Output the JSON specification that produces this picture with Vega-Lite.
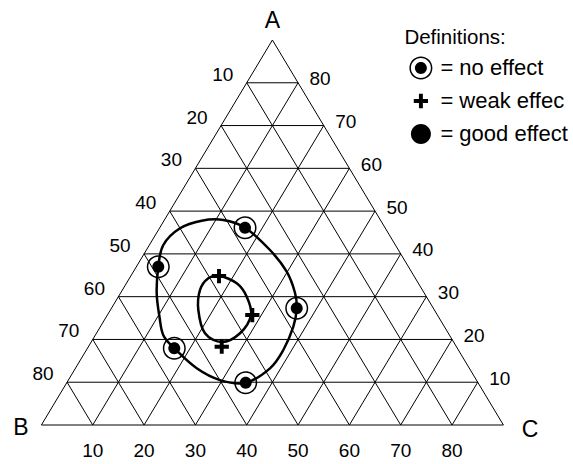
{
  "$schema": "https://vega.github.io/schema/vega-lite/v6.json",
  "width": 462,
  "height": 385,
  "autosize": {"type": "none"},
  "padding": {"left": 41.4, "top": 40, "right": 69.6, "bottom": 39},
  "background": "white",
  "config": {"view": {"stroke": null}, "font": "Liberation Sans"},
  "datasets": {
    "grid": [
      {"u": 0, "v": 0, "u2": 9, "v2": 0},
      {"u": 0, "v": 0, "u2": 4.5, "v2": 9},
      {"u": 9, "v": 0, "u2": 4.5, "v2": 9},
      {"u": 0.5, "v": 1, "u2": 8.5, "v2": 1},
      {"u": 1, "v": 2, "u2": 8, "v2": 2},
      {"u": 1.5, "v": 3, "u2": 7.5, "v2": 3},
      {"u": 2, "v": 4, "u2": 7, "v2": 4},
      {"u": 2.5, "v": 5, "u2": 6.5, "v2": 5},
      {"u": 3, "v": 6, "u2": 6, "v2": 6},
      {"u": 3.5, "v": 7, "u2": 5.5, "v2": 7},
      {"u": 4, "v": 8, "u2": 5, "v2": 8},
      {"u": 1, "v": 0, "u2": 5, "v2": 8},
      {"u": 2, "v": 0, "u2": 5.5, "v2": 7},
      {"u": 3, "v": 0, "u2": 6, "v2": 6},
      {"u": 4, "v": 0, "u2": 6.5, "v2": 5},
      {"u": 5, "v": 0, "u2": 7, "v2": 4},
      {"u": 6, "v": 0, "u2": 7.5, "v2": 3},
      {"u": 7, "v": 0, "u2": 8, "v2": 2},
      {"u": 8, "v": 0, "u2": 8.5, "v2": 1},
      {"u": 1, "v": 0, "u2": 0.5, "v2": 1},
      {"u": 2, "v": 0, "u2": 1, "v2": 2},
      {"u": 3, "v": 0, "u2": 1.5, "v2": 3},
      {"u": 4, "v": 0, "u2": 2, "v2": 4},
      {"u": 5, "v": 0, "u2": 2.5, "v2": 5},
      {"u": 6, "v": 0, "u2": 3, "v2": 6},
      {"u": 7, "v": 0, "u2": 3.5, "v2": 7},
      {"u": 8, "v": 0, "u2": 4, "v2": 8}
    ],
    "curves": [
      {"curve": "outer", "i": 1, "u": 3.967, "v": 4.612},
      {"curve": "outer", "i": 2, "u": 4.453, "v": 4.091},
      {"curve": "outer", "i": 3, "u": 4.779, "v": 3.583},
      {"curve": "outer", "i": 4, "u": 4.941, "v": 3.086},
      {"curve": "outer", "i": 5, "u": 4.974, "v": 2.728},
      {"curve": "outer", "i": 6, "u": 4.908, "v": 2.298},
      {"curve": "outer", "i": 7, "u": 4.713, "v": 1.753},
      {"curve": "outer", "i": 8, "u": 4.453, "v": 1.325},
      {"curve": "outer", "i": 9, "u": 3.98, "v": 0.989},
      {"curve": "outer", "i": 10, "u": 3.479, "v": 1.05},
      {"curve": "outer", "i": 11, "u": 3.026, "v": 1.325},
      {"curve": "outer", "i": 12, "u": 2.589, "v": 1.793},
      {"curve": "outer", "i": 13, "u": 2.375, "v": 2.1},
      {"curve": "outer", "i": 14, "u": 2.3, "v": 2.53},
      {"curve": "outer", "i": 15, "u": 2.246, "v": 3.08},
      {"curve": "outer", "i": 16, "u": 2.277, "v": 3.7},
      {"curve": "outer", "i": 17, "u": 2.375, "v": 4.208},
      {"curve": "outer", "i": 18, "u": 2.7, "v": 4.598},
      {"curve": "outer", "i": 19, "u": 3.123, "v": 4.776},
      {"curve": "outer", "i": 20, "u": 3.544, "v": 4.792},
      {"curve": "inner", "i": 1, "u": 3.46, "v": 3.483},
      {"curve": "inner", "i": 2, "u": 3.805, "v": 3.312},
      {"curve": "inner", "i": 3, "u": 4.0, "v": 2.999},
      {"curve": "inner", "i": 4, "u": 4.083, "v": 2.571},
      {"curve": "inner", "i": 5, "u": 3.869, "v": 2.144},
      {"curve": "inner", "i": 6, "u": 3.518, "v": 1.94},
      {"curve": "inner", "i": 7, "u": 3.187, "v": 2.144},
      {"curve": "inner", "i": 8, "u": 3.057, "v": 2.688},
      {"curve": "inner", "i": 9, "u": 3.09, "v": 3.156},
      {"curve": "inner", "i": 10, "u": 3.252, "v": 3.429}
    ],
    "samples": [
      {"effect": "no effect", "u": 3.967, "v": 4.612},
      {"effect": "no effect", "u": 2.277, "v": 3.7},
      {"effect": "no effect", "u": 4.974, "v": 2.728},
      {"effect": "no effect", "u": 2.589, "v": 1.793},
      {"effect": "no effect", "u": 3.98, "v": 0.989},
      {"effect": "weak effec", "u": 3.46, "v": 3.483},
      {"effect": "weak effec", "u": 4.109, "v": 2.571},
      {"effect": "weak effec", "u": 3.513, "v": 1.83}
    ],
    "bottomTicks": [
      {"u": 1, "v": 0, "lab": "10"}, {"u": 2, "v": 0, "lab": "20"},
      {"u": 3, "v": 0, "lab": "30"}, {"u": 4, "v": 0, "lab": "40"},
      {"u": 5, "v": 0, "lab": "50"}, {"u": 6, "v": 0, "lab": "60"},
      {"u": 7, "v": 0, "lab": "70"}, {"u": 8, "v": 0, "lab": "80"}
    ],
    "leftTicks": [
      {"u": 4, "v": 8, "lab": "10"}, {"u": 3.5, "v": 7, "lab": "20"},
      {"u": 3, "v": 6, "lab": "30"}, {"u": 2.5, "v": 5, "lab": "40"},
      {"u": 2, "v": 4, "lab": "50"}, {"u": 1.5, "v": 3, "lab": "60"},
      {"u": 1, "v": 2, "lab": "70"}, {"u": 0.5, "v": 1, "lab": "80"}
    ],
    "rightTicks": [
      {"u": 5, "v": 8, "lab": "80"}, {"u": 5.5, "v": 7, "lab": "70"},
      {"u": 6, "v": 6, "lab": "60"}, {"u": 6.5, "v": 5, "lab": "50"},
      {"u": 7, "v": 4, "lab": "40"}, {"u": 7.5, "v": 3, "lab": "30"},
      {"u": 8, "v": 2, "lab": "20"}, {"u": 8.5, "v": 1, "lab": "10"}
    ]
  },
  "encoding": {
    "x": {"field": "u", "type": "quantitative", "scale": {"domain": [0, 9], "nice": false, "zero": false}, "axis": null},
    "y": {"field": "v", "type": "quantitative", "scale": {"domain": [0, 9], "nice": false, "zero": false}, "axis": null}
  },
  "layer": [
    {
      "data": {"name": "grid"},
      "mark": {"type": "rule", "color": "black", "strokeWidth": 1},
      "encoding": {"x2": {"field": "u2"}, "y2": {"field": "v2"}}
    },
    {
      "data": {"name": "curves"},
      "mark": {"type": "line", "interpolate": "cardinal-closed", "color": "black", "strokeWidth": 2.5},
      "encoding": {"order": {"field": "i", "type": "quantitative"}, "detail": {"field": "curve"}}
    },
    {
      "data": {"name": "samples"},
      "mark": {"type": "point", "filled": true, "color": "black", "opacity": 1, "size": 529, "strokeWidth": 0},
      "encoding": {
        "shape": {
          "field": "effect",
          "type": "nominal",
          "scale": {
            "domain": ["no effect", "weak effec", "good effect"],
            "range": [
              "M1,0A1,1,0,1,1,-1,0A1,1,0,1,1,1,0Z M0.87,0A0.87,0.87,0,1,0,-0.87,0A0.87,0.87,0,1,0,0.87,0Z M0.52,0A0.52,0.52,0,1,1,-0.52,0A0.52,0.52,0,1,1,0.52,0Z",
              "M-0.62,-0.17H0.62V0.17H-0.62Z M-0.17,-0.62H0.17V0.62H-0.17Z",
              "M0.87,0A0.87,0.87,0,1,1,-0.87,0A0.87,0.87,0,1,1,0.87,0Z"
            ]
          },
          "legend": {
            "orient": "none",
            "legendX": 363,
            "legendY": -12,
            "title": "Definitions:",
            "titleFont": "Liberation Sans",
            "titleFontSize": 20.5,
            "titleFontWeight": "normal",
            "titleColor": "black",
            "titlePadding": 8,
            "labelFont": "Liberation Sans",
            "labelFontSize": 22,
            "labelColor": "black",
            "labelExpr": "'= ' + datum.label",
            "labelOffset": 8,
            "labelLimit": 300,
            "symbolSize": 529,
            "symbolFillColor": "black",
            "symbolStrokeWidth": 0,
            "symbolOffset": 5,
            "rowPadding": 10,
            "padding": 0
          }
        }
      }
    },
    {
      "data": {"name": "bottomTicks"},
      "mark": {"type": "text", "font": "Liberation Sans", "fontSize": 19, "color": "black", "align": "center", "baseline": "middle", "dy": 26},
      "encoding": {"text": {"field": "lab"}}
    },
    {
      "data": {"name": "leftTicks"},
      "mark": {"type": "text", "font": "Liberation Sans", "fontSize": 19, "color": "black", "align": "center", "baseline": "middle", "dx": -24, "dy": -8},
      "encoding": {"text": {"field": "lab"}}
    },
    {
      "data": {"name": "rightTicks"},
      "mark": {"type": "text", "font": "Liberation Sans", "fontSize": 19, "color": "black", "align": "center", "baseline": "middle", "dx": 22, "dy": -3.5},
      "encoding": {"text": {"field": "lab"}}
    },
    {
      "data": {"values": [{"u": 4.5, "v": 9, "lab": "A"}]},
      "mark": {"type": "text", "fontSize": 23, "color": "black", "align": "center", "baseline": "middle", "dy": -19.5},
      "encoding": {"text": {"field": "lab"}}
    },
    {
      "data": {"values": [{"u": 0, "v": 0, "lab": "B"}]},
      "mark": {"type": "text", "fontSize": 23, "color": "black", "align": "center", "baseline": "middle", "dx": -20.4, "dy": 3},
      "encoding": {"text": {"field": "lab"}}
    },
    {
      "data": {"values": [{"u": 9, "v": 0, "lab": "C"}]},
      "mark": {"type": "text", "fontSize": 23, "color": "black", "align": "center", "baseline": "middle", "dx": 26.6, "dy": 4.5},
      "encoding": {"text": {"field": "lab"}}
    }
  ]
}
